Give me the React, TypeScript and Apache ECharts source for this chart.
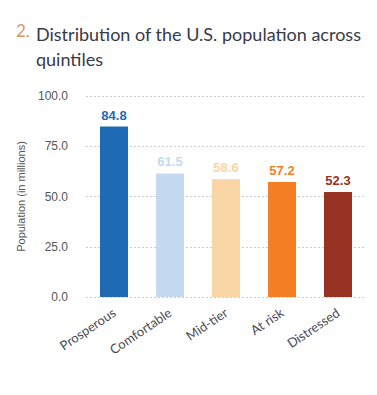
import React, { useEffect, useRef } from "react";
import * as echarts from "echarts";

const categories = ["Prosperous", "Comfortable", "Mid-tier", "At risk", "Distressed"];
const values = [84.8, 61.5, 58.6, 57.2, 52.3];
const colors = ["#1f6ab4", "#c3daf1", "#fad5a5", "#f47f24", "#983222"];
const yTicks = [0, 25, 50, 75, 100];

export default function App() {
  const ref = useRef<HTMLDivElement>(null);
  useEffect(() => {
    const chart = echarts.init(ref.current!, null, { renderer: "svg" });
    const font = "Lato, 'Open Sans', sans-serif";
    const numFont = "'Liberation Sans', Arial, sans-serif";
    chart.setOption({
      animation: false,
      textStyle: { fontFamily: font },
      graphic: [
        {
          type: "text",
          left: 16,
          top: 22,
          style: { text: "2.", fill: "#e0946c", font: `17px ${font}` },
        },
        {
          type: "text",
          left: 36,
          top: 21,
          style: {
            text: "Distribution of the U.S. population across\nquintiles",
            fill: "#383a48",
            font: `18px ${font}`,
            lineHeight: 25,
          },
        },
      ],
      grid: { left: 86, right: 11, top: 96, bottom: 98 },
      xAxis: {
        type: "category",
        data: categories,
        axisLine: { show: false },
        axisTick: { show: false },
        axisLabel: {
          rotate: 34,
          interval: 0,
          margin: 14,
          color: "#4a4a55",
          fontSize: 13,
          fontFamily: font,
        },
      },
      yAxis: {
        type: "value",
        min: yTicks[0],
        max: yTicks[yTicks.length - 1],
        interval: 25,
        name: "Population (in millions)",
        nameLocation: "middle",
        nameGap: 60,
        nameTextStyle: { color: "#555", fontSize: 11, fontFamily: numFont },
        axisLabel: {
          formatter: (v: number) => v.toFixed(1),
          color: "#555",
          fontSize: 12,
          margin: 18,
          fontFamily: numFont,
        },
        splitLine: { lineStyle: { type: [2, 2], color: "#ccc" } },
      },
      series: [
        {
          type: "bar",
          barWidth: 28,
          data: values.map((v, i) => ({
            value: v,
            itemStyle: { color: colors[i] },
            label: { color: colors[i] },
          })),
          label: {
            show: true,
            position: "top",
            distance: 5,
            fontWeight: "bold",
            fontSize: 13,
            fontFamily: numFont,
            formatter: (p: any) => p.value.toFixed(1),
          },
        },
      ],
    });
    return () => chart.dispose();
  }, []);
  return <div ref={ref} style={{ width: 377, height: 395, margin: -8 }} />;
}
